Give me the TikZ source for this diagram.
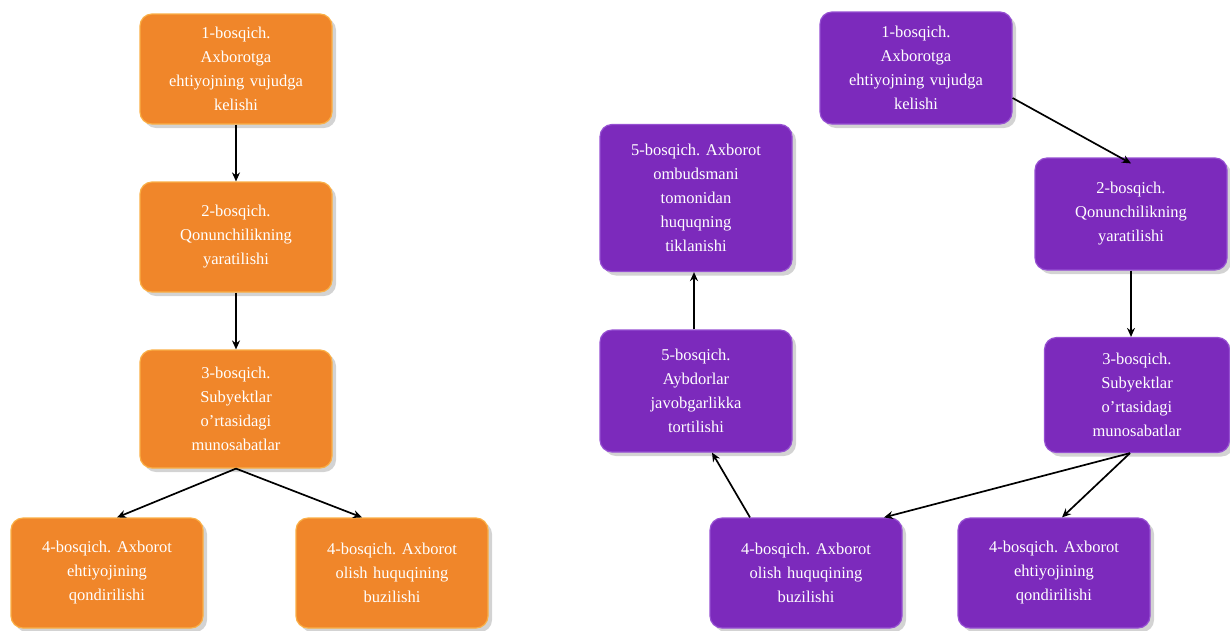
\documentclass[tikz,border=0pt]{standalone}
\usepackage{fontspec}
\setmainfont{Liberation Serif}
\usetikzlibrary{arrows.meta,shadows}
\definecolor{orangebox}{RGB}{240,134,42}
\definecolor{orangeedge}{RGB}{250,175,70}
\definecolor{purplebox}{RGB}{124,42,188}
\definecolor{purpleedge}{RGB}{150,80,210}
\tikzset{
  base/.style={rounded corners=12pt, minimum width=192pt, text width=180pt, align=center,
    text=white, font=\fontsize{16.5}{24}\selectfont, inner sep=3pt, line width=1.2pt,
    drop shadow={shadow xshift=4pt, shadow yshift=-4pt, opacity=0.35, fill=gray}},
  obox/.style={base, fill=orangebox, draw=orangeedge},
  pbox/.style={base, fill=purplebox, draw=purpleedge},
  conn/.style={-{Stealth[length=9pt,width=8pt]}, line width=1.7pt, black}
}
\begin{document}
\frenchspacing
\begin{tikzpicture}[x=1pt,y=-1pt]
\useasboundingbox (0,0) rectangle (1230,630);
% left orange flow
\node[obox, minimum height=110pt] (o1) at (236,69) {1-bosqich.\\Axborotga\\ehtiyojning vujudga\\kelishi};
\node[obox, minimum height=110pt] (o2) at (236,237) {2-bosqich.\\Qonunchilikning\\yaratilishi};
\node[obox, minimum height=118pt] (o3) at (236,409) {3-bosqich.\\Subyektlar\\o\textquoteright rtasidagi\\munosabatlar};
\node[obox, minimum height=110pt] (o4a) at (107,573) {4-bosqich. Axborot\\ehtiyojining\\qondirilishi};
\node[obox, minimum height=110pt] (o4b) at (392,573) {4-bosqich. Axborot\\olish huquqining\\buzilishi};
\draw[conn] (o1.south) -- (o2.north);
\draw[conn] (o2.south) -- (o3.north);
\draw[conn] (o3.south) -- ([xshift=10pt]o4a.north);
\draw[conn] (o3.south) -- ([xshift=-30pt]o4b.north);
% right purple flow
\node[pbox, minimum height=112pt] (p1) at (916,68) {1-bosqich.\\Axborotga\\ehtiyojning vujudga\\kelishi};
\node[pbox, minimum height=112pt] (p2) at (1131,214) {2-bosqich.\\Qonunchilikning\\yaratilishi};
\node[pbox, minimum height=115pt, minimum width=185pt, text width=172pt] (p3) at (1137,395) {3-bosqich.\\Subyektlar\\o\textquoteright rtasidagi\\munosabatlar};
\node[pbox, minimum height=147pt] (p5a) at (696,198) {5-bosqich. Axborot\\ombudsmani\\tomonidan\\huquqning\\tiklanishi};
\node[pbox, minimum height=122pt] (p5b) at (696,391) {5-bosqich.\\Aybdorlar\\javobgarlikka\\tortilishi};
\node[pbox, minimum height=110pt] (p4a) at (806,573) {4-bosqich. Axborot\\olish huquqining\\buzilishi};
\node[pbox, minimum height=110pt] (p4b) at (1054,573) {4-bosqich. Axborot\\ehtiyojining\\qondirilishi};
\draw[conn] (p1.east |- 0,98) -- ([yshift=-6pt]p2.north);
\draw[conn] (p2.south) -- (p2.south |- p3.north);
\draw[conn] ([xshift=-7pt]p3.south) -- ([xshift=78pt]p4a.north);
\draw[conn] ([xshift=-7pt]p3.south) -- ([xshift=8pt]p4b.north);
\draw[conn] ([xshift=-56pt]p4a.north) -- ([xshift=16pt]p5b.south);
\draw[conn] ([xshift=-2pt]p5b.north) -- ([xshift=-2pt]p5a.south);
\end{tikzpicture}
\end{document}
